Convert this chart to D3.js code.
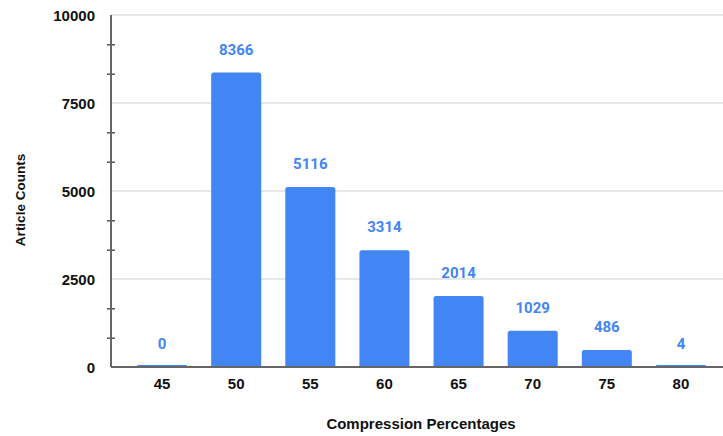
<!DOCTYPE html>
<html>
<head>
<meta charset="utf-8">
<script src="https://cdn.jsdelivr.net/npm/d3@7"></script>
<style>
  body { margin: 0; background: #fff; }
  svg { display: block; }
</style>
</head>
<body>
<script>
// chart data
const categories = ['45', '50', '55', '60', '65', '70', '75', '80']
const counts = [0, 8366, 5116, 3314, 2014, 1029, 486, 4]
const yTicks = [0, 2500, 5000, 7500, 10000]
const xTitle = 'Compression Percentages'
const yTitle = 'Article Counts'

const size = { width: 723, height: 436 }
const plot = { left: 111, right: 723, top: 15, bottom: 367 }
const blue = '#4285f4'

let svg = d3.select('body')
            .append('svg')
            .attr('width', size.width)
            .attr('height', size.height)

let yScale = d3.scaleLinear()
               .domain([0, 10000])
               .range([plot.bottom, plot.top])

let xScale = d3.scaleBand()
               .domain(categories)
               .range([125, 718])
               .paddingInner(0.325)
               .paddingOuter(0.1625)

// gridlines
svg.append('g')
   .selectAll('line')
   .data(yTicks.filter(d => d > 0))
   .enter()
   .append('line')
   .attr('x1', plot.left).attr('x2', plot.right)
   .attr('y1', d => yScale(d)).attr('y2', d => yScale(d))
   .attr('stroke', '#e0e0e0')
   .attr('stroke-width', 1.5)

// y axis: labelled ticks + minor ticks every third
let minor = d3.range(0, 10001, 2500 / 3).map(v => Math.round(v))
let yAxis = d3.axisLeft(yScale)
              .tickValues(minor)
              .tickSize(0)
              .tickFormat(d => yTicks.includes(d) ? d : '')
let gy = svg.append('g')
            .attr('transform', `translate(${plot.left},0)`)
            .call(yAxis)
gy.select('.domain').remove()
gy.selectAll('text')
  .attr('x', -16)
  .attr('dy', '0.35em')
  .attr('fill', '#111')
  .style('font', 'bold 15px "Liberation Sans", Arial, sans-serif')
gy.selectAll('.tick')
  .filter(d => !yTicks.includes(d))
  .append('line')
  .attr('x1', -4).attr('x2', 4)
  .attr('stroke', '#555')
  .attr('stroke-width', 1.5)
gy.append('line')
  .attr('x1', 0).attr('x2', 0)
  .attr('y1', plot.top).attr('y2', plot.bottom)
  .attr('stroke', '#666')
  .attr('stroke-width', 2)

// bars with slightly rounded tops
const barPath = (d) => {
    let x0 = xScale(d.cat), w = xScale.bandwidth()
    let y0 = yScale(d.val), h = Math.max(plot.bottom - y0, 2)
    let top = plot.bottom - h
    let r = Math.min(2.5, h / 2)
    return `M${x0},${plot.bottom}V${top + r}Q${x0},${top} ${x0 + r},${top}H${x0 + w - r}Q${x0 + w},${top} ${x0 + w},${top + r}V${plot.bottom}Z`
}
let bars = categories.map((c, i) => ({ cat: c, val: counts[i] }))
svg.append('g')
   .selectAll('path')
   .data(bars)
   .enter()
   .append('path')
   .attr('d', barPath)
   .attr('fill', blue)

// value labels
svg.append('g')
   .selectAll('text')
   .data(bars)
   .enter()
   .append('text')
   .attr('x', d => xScale(d.cat) + xScale.bandwidth() / 2)
   .attr('y', d => yScale(d.val) - 18)
   .attr('text-anchor', 'middle')
   .attr('fill', blue)
   .style('font', 'bold 15px Roboto, sans-serif')
   .text(d => d.val)

// x axis
let xAxis = d3.axisBottom(xScale).tickSize(0).tickPadding(11)
let gx = svg.append('g')
            .attr('transform', `translate(0,${plot.bottom})`)
            .call(xAxis)
gx.select('.domain').remove()
gx.selectAll('text')
  .attr('fill', '#111')
  .style('font', 'bold 15px "Liberation Sans", Arial, sans-serif')
gx.append('line')
  .attr('x1', plot.left).attr('x2', plot.right)
  .attr('stroke', '#666')
  .attr('stroke-width', 2)

// axis titles
svg.append('text')
   .attr('x', 421)
   .attr('y', 429)
   .attr('text-anchor', 'middle')
   .attr('fill', '#111')
   .style('font', 'bold 15px "Liberation Sans", Arial, sans-serif')
   .text(xTitle)
svg.append('text')
   .attr('transform', `translate(25,200) rotate(-90)`)
   .attr('text-anchor', 'middle')
   .attr('fill', '#111')
   .style('font', 'bold 13.5px "Liberation Sans", Arial, sans-serif')
   .text(yTitle)
</script>
</body>
</html>
